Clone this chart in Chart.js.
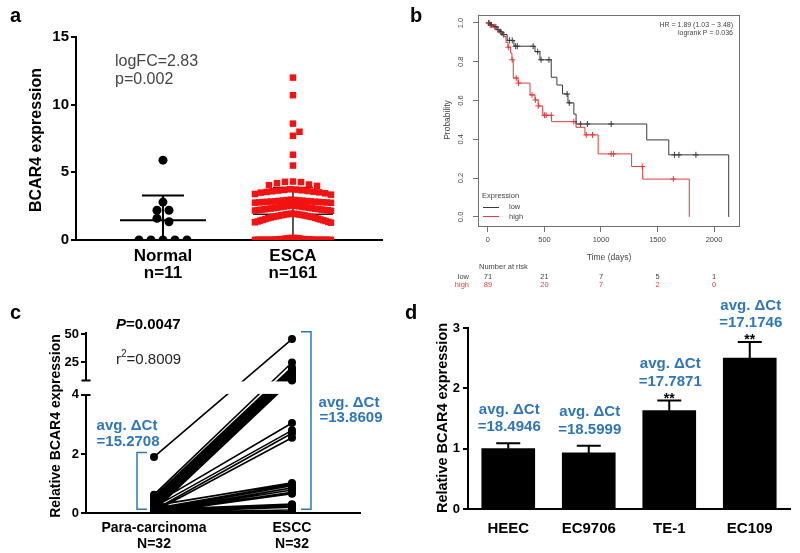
<!DOCTYPE html>
<html>
<head>
<meta charset="utf-8">
<script src="https://cdn.jsdelivr.net/npm/chart.js@4.4.1/dist/chart.umd.min.js"></script>
<style>
html,body{margin:0;padding:0;background:#fff;}
#wrap{position:relative;width:800px;height:553px;overflow:hidden;background:#fff;}
#wrap canvas{position:absolute;}
.pl{position:absolute;font:bold 20px "Liberation Sans",Arial,sans-serif;line-height:20px;color:#000;}
</style>
</head>
<body>
<div id="wrap">
  <canvas id="chartA" width="400" height="280" style="left:0px;top:0px"></canvas>
  <canvas id="chartB" width="380" height="295" style="left:420px;top:0px"></canvas>
  <canvas id="chartC" width="400" height="273" style="left:0px;top:280px"></canvas>
  <canvas id="chartD" width="400" height="273" style="left:400px;top:280px"></canvas>
  <div class="pl" style="left:10px;top:5px">a</div>
  <div class="pl" style="left:410px;top:5px">b</div>
  <div class="pl" style="left:10px;top:302px">c</div>
  <div class="pl" style="left:405px;top:302px">d</div>
</div>
<script>
// ================= DATA =================
// Panel a
const groupLabelsA = [['Normal', 'n=11'], ['ESCA', 'n=161']];
const normalValues = [0, 0, 0, 0, 0, 1.35, 1.6, 2.2, 2.2, 2.8, 5.9];
const escaValues = [
  0,0,0,0,0,0,0,0,0,0,0,0,0,0,0,0,0,0,0,0,0,0,0,0,0,0,0,0,0,0,
  0.03,0.03,0.03,0.03,0.03,0.03,0.03,0.03,
  0.06,0.06,0.06,0.06,0.06,0.06,0.06,0.06,
  0.1,0.1,0.1,0.1,0.1,0.1,
  0.14,0.14,0.14,0.14,0.14,0.14,
  1.95,1.94,1.92,1.91,1.9,1.88,1.86,1.85,1.83,1.81,1.79,1.77,1.75,1.73,1.71,
  1.69,1.66,1.64,1.61,1.58,1.55,1.52,1.49,1.46,1.43,1.4,1.37,1.34,1.31,1.28,
  2.55,2.54,2.52,2.5,2.49,2.47,2.45,2.43,2.42,2.4,2.38,2.36,2.35,2.33,2.31,
  2.3,2.28,2.27,2.25,2.24,2.22,2.21,2.2,2.18,2.16,
  2.98,2.96,2.95,2.93,2.92,2.9,2.89,2.88,2.86,2.85,2.84,2.83,2.82,2.81,2.8,
  2.79,2.78,2.77,2.76,2.75,
  3.75,3.72,3.7,3.67,3.65,3.62,3.6,3.57,3.55,3.52,3.5,3.45,3.4,3.35,
  4.32,4.3,4.28,4.2,4.1,4.05,4.0,
  5.5,6.3,7.7,8.0,8.6,10.7,12.0
];
const yTicksA = [0, 5, 10, 15];
const statTextA = ['logFC=2.83', 'p=0.002'];

// Panel b
const kmTicksX = [0, 500, 1000, 1500, 2000];
const kmTicksY = [0, 0.2, 0.4, 0.6, 0.8, 1.0];
const lowTime = [0,20,50,80,100,130,170,230,416,460,560,610,660,708,760,780,1405,1600,2130];
const lowSurv = [1,0.99,0.98,0.965,0.955,0.94,0.91,0.88,0.852,0.81,0.72,0.68,0.634,0.588,0.53,0.479,0.397,0.32,0];
const highTime = [0,15,40,70,100,133,160,177,200,212,224,266,372,416,445,484,563,779,858,975,1271,1369,1781];
const highSurv = [1,0.99,0.98,0.965,0.95,0.93,0.9,0.875,0.845,0.81,0.716,0.69,0.629,0.603,0.572,0.524,0.491,0.462,0.423,0.325,0.26,0.195,0];
const lowCensor = [10,30,70,90,110,140,190,215,245,260,400,440,470,540,700,720,820,880,1090,1650,1690,1840];
const highCensor = [5,20,60,120,180,215,250,270,390,420,445,500,515,560,760,870,925,1090,1110,1365,1640];
const riskLow = [71, 21, 7, 5, 1];
const riskHigh = [89, 20, 7, 2, 0];
const hrText = ['HR = 1.89 (1.03 \u2212 3.48)', 'logrank P = 0.036'];

// Panel c
const pairGroups = [['Para-carcinoma', 'N=32'], ['ESCC', 'N=32']];
const paraValues = [1.9,0.62,0.55,0.48,0.42,0.35,0.3,0.25,0.2,0.15,0.12,0.08,
                    0.3,0.2,0.1,0.05,
                    0.25,0.15,0.1,0.06,0.04,0.02,0.01,
                    0.12,0.08,0.05,0.03,0.02,0.01,0.01,0,0];
const esccValues = [45.5,24.8,20.5,18.9,17,15.4,14,12.4,11,10,9.5,9,
                    3.05,2.8,2.7,2.55,
                    1.02,0.97,0.92,0.85,0.78,0.7,0.65,
                    0.3,0.27,0.22,0.2,0.1,0.06,0.03,0.01,0];
const yTicksC = [0, 2, 4, 25, 50];
const avgCtC = ['=15.2708', '=13.8609'];

// Panel d
const cellLines = ['HEEC', 'EC9706', 'TE-1', 'EC109'];
const relExpr = [1.0, 0.93, 1.63, 2.50];
const relErr = [0.09, 0.12, 0.17, 0.27];
const avgCtD = ['=18.4946', '=18.5999', '=17.7871', '=17.1746'];
const sigMarks = ['', '', '**', '**'];

// ================= HELPERS =================
const FONT = '"Liberation Sans", Arial, Helvetica, sans-serif';
const BLUE = '#2f76b9';
const RED_KM = '#e03c3c';
const DARK_KM = '#3a3a3a';
Chart.defaults.font.family = FONT;
Chart.defaults.animation = false;
Chart.defaults.plugins.legend.display = false;
Chart.defaults.plugins.tooltip.enabled = false;

function mean(a) { return a.reduce((s, v) => s + v, 0) / a.length; }
function sdev(a) { const m = mean(a); return Math.sqrt(a.reduce((s, v) => s + (v - m) * (v - m), 0) / (a.length - 1)); }

// Dot-plot spreading (computed from the values): rows of near-equal values are spread sideways
function swarmOffsets(vals, thr, spacing, maxW, pxPerY, size) {
  const idx = vals.map((v, i) => i).sort((a, b) => vals[a] - vals[b]);
  const off = new Array(vals.length).fill(0);
  const placed = [];
  let i = 0;
  while (i < idx.length) {
    let j = i + 1;
    while (j < idx.length && vals[idx[j]] - vals[idx[j - 1]] <= thr) j++;
    const cl = idx.slice(i, j).sort((a, b) => vals[b] - vals[a]);
    const n = cl.length;
    if (n === 1) {
      const k = cl[0];
      const yk = vals[k] * pxPerY;
      const coll = x => placed.some(p => Math.abs(p.x - x) < size && Math.abs(p.y - yk) < size);
      let x = 0, step = 1;
      while (coll(x) && step < 40) { x = (step % 2 ? 1 : -1) * Math.ceil(step / 2) * size; step++; }
      off[k] = x; placed.push({ x, y: yk });
    } else {
      const s = Math.min(spacing, maxW / (n - 1));
      const pos = [];
      for (let m = 0; m < n; m++) pos.push((m - (n - 1) / 2) * s);
      pos.sort((a, b) => Math.abs(a) - Math.abs(b) || a - b);
      cl.forEach((k, m) => { off[k] = pos[m]; placed.push({ x: pos[m], y: vals[k] * pxPerY }); });
    }
    i = j;
  }
  return off;
}

function survAt(times, surv, t) {
  let s = surv[0];
  for (let i = 0; i < times.length; i++) if (times[i] <= t) s = surv[i];
  return s;
}

function rotText(ctx, txt, x, y, font, color) {
  ctx.save();
  ctx.translate(x, y);
  ctx.rotate(-Math.PI / 2);
  ctx.font = font; ctx.fillStyle = color;
  ctx.textAlign = 'center'; ctx.textBaseline = 'middle';
  ctx.fillText(txt, 0, 0);
  ctx.restore();
}

// ================= PANEL A =================
const A_XMIN = 0.331, A_XMAX = 2.685, A_PX = 306 / (A_XMAX - A_XMIN), A_PY = 203 / 15;
const normOff = swarmOffsets(normalValues, 0.3, 12, 100, A_PY, 8);
const escaOff = swarmOffsets(escaValues, 0.18, 8, 76, A_PY, 6.5);

function drawErrBar(ctx, xs, ys, g, vals, color, lw, halfMean, halfCap) {
  const m = mean(vals), s = sdev(vals);
  const cx = xs.getPixelForValue(g);
  ctx.save();
  ctx.strokeStyle = color; ctx.lineWidth = lw;
  ctx.beginPath();
  ctx.moveTo(cx - halfMean, ys.getPixelForValue(m)); ctx.lineTo(cx + halfMean, ys.getPixelForValue(m));
  ctx.moveTo(cx, ys.getPixelForValue(Math.max(0, m - s))); ctx.lineTo(cx, ys.getPixelForValue(m + s));
  ctx.moveTo(cx - halfCap, ys.getPixelForValue(m + s)); ctx.lineTo(cx + halfCap, ys.getPixelForValue(m + s));
  ctx.stroke();
  ctx.restore();
}

const plugA = {
  id: 'plugA',
  beforeDatasetsDraw(chart) {
    drawErrBar(chart.ctx, chart.scales.x, chart.scales.y, 2, escaValues, '#222', 1.5, 40, 20);
  },
  afterDatasetsDraw(chart) {
    drawErrBar(chart.ctx, chart.scales.x, chart.scales.y, 1, normalValues, '#000', 2, 43, 21);
  },
  afterDraw(chart) {
    const ctx = chart.ctx;
    ctx.save();
    ctx.font = '16px ' + FONT; ctx.fillStyle = '#454545';
    ctx.textAlign = 'left'; ctx.textBaseline = 'middle';
    ctx.fillText(statTextA[0], 115, 62);
    ctx.fillText(statTextA[1], 115, 80);
    ctx.restore();
    rotText(ctx, 'BCAR4 expression', 37, 140, 'bold 16px ' + FONT, '#000');
  }
};

new Chart(document.getElementById('chartA'), {
  type: 'scatter',
  data: {
    datasets: [
      { data: normalValues.map((v, i) => ({ x: 1 + normOff[i] / A_PX, y: v })),
        pointStyle: 'circle', pointRadius: 4.5, backgroundColor: '#000', borderWidth: 0 },
      { data: escaValues.map((v, i) => ({ x: 2 + escaOff[i] / A_PX, y: v })),
        pointStyle: 'rect', pointRadius: 4.6, backgroundColor: '#f21212', borderWidth: 0 }
    ]
  },
  options: {
    responsive: false, devicePixelRatio: 1,
    layout: { padding: { left: 0, top: 37, right: 18, bottom: 0 } },
    scales: {
      x: { type: 'linear', min: A_XMIN, max: A_XMAX,
        afterBuildTicks: s => { s.ticks = [{ value: 1 }, { value: 2 }]; },
        ticks: { callback: v => groupLabelsA[Math.round(v) - 1], font: { size: 17, weight: 'bold', lineHeight: 1.05 },
                 color: '#000', padding: 7, maxRotation: 0, autoSkip: false },
        grid: { drawOnChartArea: false, drawTicks: false },
        border: { color: '#000', width: 2 },
        afterFit: s => { s.height = 40; } },
      y: { min: 0, max: 15,
        afterBuildTicks: s => { s.ticks = yTicksA.map(v => ({ value: v })); },
        ticks: { font: { size: 15, weight: 'bold' }, color: '#000', padding: 2 },
        grid: { drawOnChartArea: false, tickLength: 5, color: '#000', lineWidth: 2 },
        border: { color: '#000', width: 2 },
        afterFit: s => { s.width = 76; } }
    }
  },
  plugins: [plugA]
});

// ================= PANEL B =================
const plugB = {
  id: 'plugB',
  afterDraw(chart) {
    const { ctx, chartArea: a, scales: { x, y } } = chart;
    ctx.save();
    ctx.strokeStyle = '#707070'; ctx.lineWidth = 1;
    ctx.strokeRect(a.left + 0.5, a.top + 0.5, a.right - a.left - 1, a.bottom - a.top - 1);
    ctx.restore();
    kmTicksY.forEach(v => rotText(ctx, v.toFixed(1), 41, y.getPixelForValue(v), '7.5px ' + FONT, '#444'));
    rotText(ctx, 'Probability', 28, 120, '8.5px ' + FONT, '#444');
    ctx.save();
    ctx.fillStyle = '#444';
    ctx.font = '8.5px ' + FONT; ctx.textAlign = 'center'; ctx.textBaseline = 'middle';
    ctx.fillText('Time (days)', (a.left + a.right) / 2, 258);
    ctx.font = '7px ' + FONT; ctx.textAlign = 'right';
    ctx.fillText(hrText[0], 313, 25);
    ctx.fillText(hrText[1], 313, 33);
    // legend
    ctx.font = '7.5px ' + FONT; ctx.textAlign = 'left';
    ctx.fillText('Expression', 62, 196);
    ctx.fillText('low', 89, 207);
    ctx.fillText('high', 89, 216.5);
    ctx.lineWidth = 1;
    ctx.strokeStyle = DARK_KM; ctx.beginPath(); ctx.moveTo(63, 207.5); ctx.lineTo(79, 207.5); ctx.stroke();
    ctx.strokeStyle = RED_KM; ctx.beginPath(); ctx.moveTo(63, 216.5); ctx.lineTo(79, 216.5); ctx.stroke();
    // risk table
    ctx.fillStyle = '#444'; ctx.font = '7.5px ' + FONT; ctx.textAlign = 'left';
    ctx.fillText('Number at risk', 59, 267);
    ctx.textAlign = 'right';
    ctx.fillText('low', 49, 276.5);
    ctx.fillStyle = RED_KM;
    ctx.fillText('high', 49, 284.5);
    ctx.textAlign = 'center';
    kmTicksX.forEach((t, i) => {
      ctx.fillStyle = '#444'; ctx.fillText(String(riskLow[i]), x.getPixelForValue(t), 276.5);
      ctx.fillStyle = RED_KM; ctx.fillText(String(riskHigh[i]), x.getPixelForValue(t), 284.5);
    });
    ctx.restore();
  }
};

new Chart(document.getElementById('chartB'), {
  type: 'line',
  data: {
    datasets: [
      { data: lowTime.map((t, i) => ({ x: t, y: lowSurv[i] })), stepped: true, borderColor: DARK_KM,
        borderWidth: 1, pointRadius: 0, fill: false },
      { data: highTime.map((t, i) => ({ x: t, y: highSurv[i] })), stepped: true, borderColor: RED_KM,
        borderWidth: 1, pointRadius: 0, fill: false },
      { data: lowCensor.map(t => ({ x: t, y: survAt(lowTime, lowSurv, t) })), showLine: false,
        pointStyle: 'cross', pointRadius: 3, borderColor: DARK_KM, borderWidth: 1 },
      { data: highCensor.map(t => ({ x: t, y: survAt(highTime, highSurv, t) })), showLine: false,
        pointStyle: 'cross', pointRadius: 3, borderColor: RED_KM, borderWidth: 1 }
    ]
  },
  options: {
    responsive: false, devicePixelRatio: 1,
    layout: { padding: { left: 0, top: 15, right: 60, bottom: 0 } },
    scales: {
      x: { type: 'linear', min: -88, max: 2230,
        afterBuildTicks: s => { s.ticks = kmTicksX.map(v => ({ value: v })); },
        ticks: { callback: v => String(v), font: { size: 7.5 }, color: '#444', padding: 3, maxRotation: 0, autoSkip: false },
        grid: { drawOnChartArea: false, tickLength: 5, color: '#707070' },
        border: { display: false },
        afterFit: s => { s.height = 68; } },
      y: { type: 'linear', min: -0.052, max: 1.041,
        afterBuildTicks: s => { s.ticks = kmTicksY.map(v => ({ value: v })); },
        ticks: { display: false },
        grid: { drawOnChartArea: false, tickLength: 5, color: '#707070' },
        border: { display: false },
        afterFit: s => { s.width = 58; } }
    }
  },
  plugins: [plugB]
});

// ================= PANEL C =================
const C_LOW_MAX = 4, C_UP_MIN = 9, C_GAP = 0.49, C_UP_SCALE = 0.0384;
const tf = v => v <= C_LOW_MAX ? v : C_LOW_MAX + C_GAP + (v - C_UP_MIN) * C_UP_SCALE;

const lineSegs = [];
paraValues.forEach((p, i) => {
  lineSegs.push({ x: 1, y: tf(p) }, { x: 2, y: tf(esccValues[i]) }, { x: 1.5, y: null });
});
const pointsC = paraValues.map(p => ({ x: 1, y: tf(p) })).concat(esccValues.map(e => ({ x: 2, y: tf(e) })));

const plugC = {
  id: 'plugC',
  afterDatasetDraw(chart, args) {
    if (!chart.data.datasets[args.index].isLines) return;
    const { ctx, chartArea: a, scales: { y } } = chart;
    const yTop = y.getPixelForValue(tf(C_UP_MIN)), yBot = y.getPixelForValue(C_LOW_MAX);
    ctx.save(); ctx.fillStyle = '#fff';
    ctx.fillRect(a.left + 1, yTop + 1, a.right - a.left, yBot - yTop - 2);
    ctx.restore();
  },
  afterDraw(chart) {
    const { ctx, chartArea: a, scales: { x, y } } = chart;
    const ax = a.left;
    const yUp = y.getPixelForValue(tf(C_UP_MIN)), yLo = y.getPixelForValue(C_LOW_MAX);
    ctx.save();
    ctx.strokeStyle = '#000'; ctx.lineWidth = 2;
    ctx.beginPath();
    ctx.moveTo(ax, a.top); ctx.lineTo(ax, yUp);
    ctx.moveTo(ax - 4.5, yUp); ctx.lineTo(ax + 4.5, yUp);
    ctx.moveTo(ax - 4.5, yLo); ctx.lineTo(ax + 4.5, yLo);
    ctx.moveTo(ax, yLo); ctx.lineTo(ax, a.bottom);
    ctx.stroke();
    // brackets
    ctx.strokeStyle = BLUE; ctx.lineWidth = 1.5;
    const lx = x.getPixelForValue(1) - 17, rx = x.getPixelForValue(2) + 19;
    const lTop = y.getPixelForValue(2.05), lBot = y.getPixelForValue(0.13);
    const rTop = y.getPixelForValue(tf(52)), rBot = y.getPixelForValue(0.13);
    ctx.beginPath();
    ctx.moveTo(lx + 10, lTop); ctx.lineTo(lx, lTop); ctx.lineTo(lx, lBot); ctx.lineTo(lx + 10, lBot);
    ctx.moveTo(rx - 10, rTop); ctx.lineTo(rx, rTop); ctx.lineTo(rx, rBot); ctx.lineTo(rx - 10, rBot);
    ctx.stroke();
    // blue annotations
    ctx.fillStyle = BLUE; ctx.font = 'bold 15px ' + FONT; ctx.textAlign = 'center'; ctx.textBaseline = 'middle';
    ctx.fillText('avg. \u0394Ct', x.getPixelForValue(1) - 27, 146);
    ctx.fillText(avgCtC[0], x.getPixelForValue(1) - 26, 162);
    ctx.fillText('avg. \u0394Ct', x.getPixelForValue(2) + 57, 123);
    ctx.fillText(avgCtC[1], x.getPixelForValue(2) + 59, 138);
    // stats text
    ctx.fillStyle = '#000'; ctx.textAlign = 'left';
    ctx.font = 'italic bold 15px ' + FONT;
    ctx.fillText('P', 116, 45);
    const pw = ctx.measureText('P').width;
    ctx.font = 'bold 15px ' + FONT;
    ctx.fillText('=0.0047', 116 + pw, 45);
    ctx.fillStyle = '#222'; ctx.font = '15px ' + FONT;
    ctx.fillText('r', 116, 80);
    const rw = ctx.measureText('r').width;
    ctx.font = '10px ' + FONT;
    ctx.fillText('2', 116 + rw, 74);
    const sw = ctx.measureText('2').width;
    ctx.font = '15px ' + FONT;
    ctx.fillText('=0.8009', 116 + rw + sw, 80);
    ctx.restore();
    rotText(ctx, 'Relative BCAR4 expression', 56, 146, 'bold 14px ' + FONT, '#000');
  }
};

new Chart(document.getElementById('chartC'), {
  type: 'line',
  data: {
    datasets: [
      { data: pointsC, showLine: false, pointStyle: 'circle', pointRadius: 4, backgroundColor: '#000',
        borderWidth: 0, order: 0 },
      { data: lineSegs, borderColor: '#000', borderWidth: 1.6, pointRadius: 0, spanGaps: false,
        fill: false, order: 1, isLines: true }
    ]
  },
  options: {
    responsive: false, devicePixelRatio: 1,
    layout: { padding: { left: 0, top: 52, right: 40, bottom: 0 } },
    scales: {
      x: { type: 'linear', min: 0.507, max: 2.493,
        afterBuildTicks: s => { s.ticks = [{ value: 1 }, { value: 2 }]; },
        ticks: { callback: v => pairGroups[Math.round(v) - 1], font: { size: 14, weight: 'bold', lineHeight: 1.15 },
                 color: '#000', padding: 7, maxRotation: 0, autoSkip: false },
        grid: { drawOnChartArea: false, drawTicks: false },
        border: { color: '#000', width: 2 },
        afterFit: s => { s.height = 40; } },
      y: { type: 'linear', min: 0, max: 6.13,
        afterBuildTicks: s => { s.ticks = yTicksC.map(v => ({ value: tf(v) })); },
        ticks: { callback: (v, i) => String(yTicksC[i]), font: { size: 13, weight: 'bold' }, color: '#000', padding: 2 },
        grid: { drawOnChartArea: false, tickLength: 5, color: '#000', lineWidth: 2 },
        border: { display: false },
        afterFit: s => { s.width = 86; } }
    }
  },
  plugins: [plugC]
});

// ================= PANEL D =================
const plugD = {
  id: 'plugD',
  afterDatasetsDraw(chart) {
    const { ctx, scales: { x, y } } = chart;
    ctx.save();
    relExpr.forEach((v, i) => {
      const cx = x.getPixelForValue(i);
      const yb = y.getPixelForValue(v), ye = y.getPixelForValue(v + relErr[i]);
      ctx.strokeStyle = '#000'; ctx.lineWidth = 2;
      ctx.beginPath();
      ctx.moveTo(cx, yb); ctx.lineTo(cx, ye);
      ctx.moveTo(cx - 12, ye); ctx.lineTo(cx + 12, ye);
      ctx.stroke();
      ctx.textAlign = 'center';
      if (sigMarks[i]) {
        ctx.fillStyle = '#000'; ctx.font = 'bold 14px ' + FONT; ctx.textBaseline = 'alphabetic';
        ctx.fillText(sigMarks[i], cx, ye + 2.5);
      }
      const l2 = ye - (sigMarks[i] ? 19 : 16);
      ctx.fillStyle = BLUE; ctx.font = 'bold 15px ' + FONT; ctx.textBaseline = 'middle';
      ctx.fillText('avg. \u0394Ct', cx + 1, l2 - 17.5);
      ctx.fillText(avgCtD[i], cx + 1, l2);
    });
    ctx.restore();
    rotText(ctx, 'Relative BCAR4 expression', 43, 138, 'bold 14.5px ' + FONT, '#000');
  }
};

new Chart(document.getElementById('chartD'), {
  type: 'bar',
  data: {
    labels: cellLines,
    datasets: [{ data: relExpr, backgroundColor: '#000', barThickness: 53, borderWidth: 0 }]
  },
  options: {
    responsive: false, devicePixelRatio: 1,
    layout: { padding: { left: 0, top: 48, right: 10, bottom: 0 } },
    scales: {
      x: { ticks: { font: { size: 15, weight: 'bold' }, color: '#000', padding: 11, maxRotation: 0 },
        grid: { drawOnChartArea: false, drawTicks: false },
        border: { color: '#000', width: 2 },
        afterFit: s => { s.height = 44; } },
      y: { min: 0, max: 3,
        ticks: { stepSize: 1, font: { size: 13, weight: 'bold' }, color: '#000', padding: 3 },
        grid: { drawOnChartArea: false, tickLength: 5, color: '#000', lineWidth: 2 },
        border: { color: '#000', width: 2 },
        afterFit: s => { s.width = 68; } }
    }
  },
  plugins: [plugD]
});
</script>
</body>
</html>
